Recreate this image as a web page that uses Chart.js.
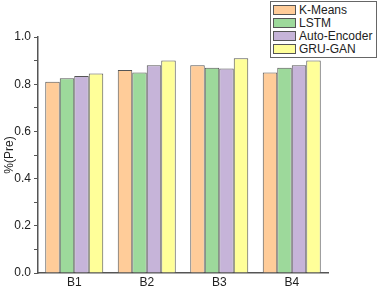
<!DOCTYPE html>
<html>
<head>
<meta charset="utf-8">
<script src="https://cdn.jsdelivr.net/npm/chart.js@4/dist/chart.umd.min.js"></script>
<style>
  html, body { margin: 0; padding: 0; background: #fff; }
  #wrap { position: relative; width: 378px; height: 288px; }
  #legend {
    position: absolute; left: 270px; top: 1px; width: 107px;
    border: 1px solid #666; background: #fff;
    font-family: "Liberation Sans", Arial, sans-serif; font-size: 12px; color: #222;
    padding: 1px 0 2px 2px; box-sizing: border-box; white-space: nowrap;
  }
  #legend .row { display: flex; align-items: center; height: 13px; }
  #legend .sw { flex: none; width: 23px; height: 10px; border: 1px solid #555; margin-right: 3px; box-sizing: border-box; }
</style>
</head>
<body>
<div id="wrap">
  <canvas id="barChart" width="378" height="288"></canvas>
  <div id="legend"></div>
</div>
<script>
const categories = ['B1', 'B2', 'B3', 'B4'];
const kMeans = [0.81, 0.86, 0.88, 0.85];
const lstm = [0.825, 0.85, 0.87, 0.87];
const autoEncoder = [0.835, 0.88, 0.867, 0.88];
const gruGan = [0.845, 0.90, 0.91, 0.90];
const seriesNames = ['K-Means', 'LSTM', 'Auto-Encoder', 'GRU-GAN'];
const seriesColors = ['#FFCC99', '#9DD99B', '#C6B4D9', '#FFFF99'];
const yTicks = [0, 0.2, 0.4, 0.6, 0.8, 1.0];

const allSeries = [kMeans, lstm, autoEncoder, gruGan];
const datasets = allSeries.map((vals, i) => ({
  label: seriesNames[i],
  data: vals,
  backgroundColor: seriesColors[i],
  borderColor: '#555',
  borderWidth: 1,
  barPercentage: 1.0,
  categoryPercentage: 0.8
}));

const legendEl = document.getElementById('legend');
seriesNames.forEach((name, i) => {
  const row = document.createElement('div');
  row.className = 'row';
  row.innerHTML = '<span class="sw" style="background:' + seriesColors[i] + '"></span><span>' + name + '</span>';
  legendEl.appendChild(row);
});

const font = { family: '"Liberation Sans", Arial, sans-serif', size: 12 };
const ctx = document.getElementById('barChart').getContext('2d');
new Chart(ctx, {
  type: 'bar',
  data: { labels: categories, datasets: datasets },
  options: {
    responsive: false,
    animation: false,
    layout: { padding: { top: 37, right: 50, left: 2, bottom: 0 } },
    plugins: { legend: { display: false }, tooltip: { enabled: false } },
    scales: {
      x: {
        grid: { display: false, drawTicks: false },
        border: { color: '#555', width: 1.5 },
        ticks: { color: '#222', font: font, padding: 2 },
        afterFit: (s) => { s.height = 15; }
      },
      y: {
        min: 0,
        max: 1.0,
        border: { color: '#555', width: 1.5 },
        grid: {
          drawOnChartArea: false,
          tickLength: 4,
          tickColor: '#555'
        },
        ticks: {
          stepSize: 0.1,
          color: '#222',
          font: font,
          padding: 3,
          callback: (v) => {
            const hit = yTicks.find(t => Math.abs(t - v) < 1e-6);
            return hit === undefined ? '' : hit.toFixed(1);
          }
        },
        title: { display: true, text: '%(Pre)', color: '#222', font: font, padding: 0 },
        afterFit: (s) => { s.width = 36; }
      }
    }
  }
});
</script>
</body>
</html>
